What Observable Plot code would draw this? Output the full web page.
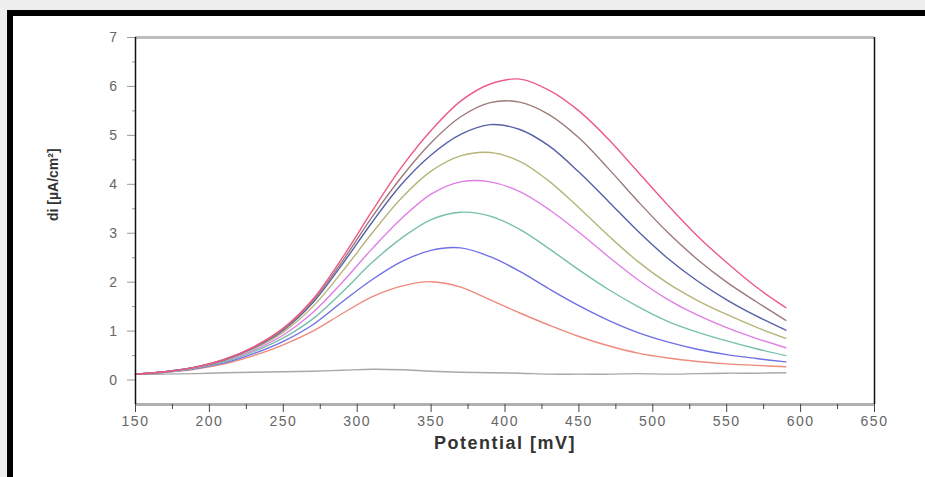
<!DOCTYPE html>
<html>
<head>
<meta charset="utf-8">
<script src="https://cdn.jsdelivr.net/npm/d3@7"></script>
<script src="https://cdn.jsdelivr.net/npm/@observablehq/plot@0.6"></script>
<style>
  html, body { margin: 0; padding: 0; width: 925px; height: 477px; overflow: hidden; background: #eeeeee; font-family: "Liberation Sans", Arial, sans-serif; }
  #frame { position: absolute; left: 7px; top: 10px; width: 940px; height: 490px; border: 6px solid #000; background: #fff; box-sizing: border-box; }
  #chart { position: absolute; left: 0; top: 0; }
  g[aria-label="x-axis tick label"] text, g[aria-label="y-axis tick label"] text { letter-spacing: 1.5px; }
  g.xlab text { letter-spacing: 1.5px; }
</style>
</head>
<body>
<div id="frame"></div>
<div id="chart"></div>
<script>
const potential = [150,170,190,210,230,250,270,290,310,330,350,370,390,410,430,450,470,490,510,530,550,570,590];

const seriesNames = ["c0","c1","c2","c3","c4","c5","c6","c7","c8"];
const c0 = [0.12,0.12,0.13,0.15,0.16,0.17,0.18,0.20,0.22,0.21,0.18,0.16,0.15,0.14,0.12,0.12,0.12,0.13,0.12,0.13,0.14,0.14,0.15];
const c1 = [0.12,0.16,0.22,0.33,0.50,0.72,1.00,1.36,1.70,1.92,2.01,1.90,1.64,1.37,1.12,0.89,0.70,0.55,0.45,0.38,0.33,0.30,0.27];
const c2 = [0.12,0.16,0.23,0.35,0.54,0.79,1.13,1.60,2.05,2.42,2.65,2.70,2.52,2.22,1.86,1.52,1.22,0.97,0.78,0.63,0.52,0.44,0.37];
const c3 = [0.12,0.16,0.24,0.37,0.58,0.86,1.25,1.80,2.40,2.90,3.28,3.43,3.35,3.08,2.68,2.25,1.85,1.50,1.20,0.98,0.80,0.64,0.50];
const c4 = [0.12,0.17,0.25,0.39,0.61,0.92,1.38,2.00,2.68,3.30,3.80,4.05,4.05,3.85,3.48,3.02,2.52,2.05,1.65,1.33,1.07,0.85,0.66];
const c5 = [0.12,0.17,0.25,0.40,0.64,0.98,1.50,2.22,3.00,3.72,4.27,4.58,4.65,4.47,4.06,3.52,2.95,2.42,1.98,1.63,1.34,1.08,0.85];
const c6 = [0.12,0.17,0.26,0.41,0.66,1.02,1.58,2.37,3.22,4.00,4.60,5.02,5.22,5.12,4.78,4.25,3.65,3.04,2.49,2.03,1.64,1.31,1.02];
const c7 = [0.12,0.17,0.26,0.42,0.67,1.04,1.62,2.43,3.33,4.15,4.85,5.38,5.67,5.68,5.42,4.95,4.32,3.65,3.02,2.47,2.00,1.60,1.22];
const c8 = [0.12,0.17,0.26,0.42,0.68,1.06,1.65,2.50,3.45,4.35,5.10,5.70,6.05,6.15,5.92,5.50,4.92,4.25,3.58,2.95,2.40,1.90,1.48];
const seriesColors = ["#a8a8a8","#ef8a7c","#6f6fe6","#78c0a8","#e07ee6","#b5b57a","#5560a8","#9c7b78","#ee5a86"];

const xTicks = [150,200,250,300,350,400,450,500,550,600,650];
const xMinor = [175,225,275,325,375,425,475,525,575,625];
const yTicks = [0,1,2,3,4,5,6,7];
const yMinor = [0.5,1.5,2.5,3.5,4.5,5.5,6.5];

const allSeries = [c0,c1,c2,c3,c4,c5,c6,c7,c8];
const rows = [];
allSeries.forEach((s, k) => s.forEach((v, i) => rows.push({x: potential[i], y: v, s: seriesNames[k]})));

const chart = Plot.plot({
  width: 925,
  height: 477,
  marginLeft: 135,
  marginRight: 51,
  marginTop: 37,
  marginBottom: 73,
  style: {background: "transparent", overflow: "visible", fontFamily: "Liberation Sans, Arial, sans-serif"},
  x: {domain: [150, 650]},
  y: {domain: [-0.5, 7]},
  color: {domain: seriesNames, range: seriesColors},
  marks: [
    Plot.ruleY([7], {stroke: "#bdbdbd", strokeWidth: 3}),
    Plot.ruleY([-0.5], {stroke: "#b0b0b0", strokeWidth: 3}),
    Plot.axisX({ticks: xTicks, tickSize: 8, tickPadding: 4, fontSize: 14, color: "#666", stroke: "#444", label: null}),
    Plot.axisX({ticks: xMinor, tickSize: 5, text: null, stroke: "#444", label: null}),
    Plot.axisY({ticks: yTicks, tickSize: 8, tickPadding: 9, fontSize: 14, color: "#666", stroke: "#999", label: null}),
    Plot.axisY({ticks: yMinor, tickSize: 3, text: null, stroke: "#999", label: null}),
    Plot.lineY(rows, {x: "x", y: "y", stroke: "s", strokeWidth: 1.4, curve: "catmull-rom"}),
    Plot.ruleX([150], {stroke: "#111", strokeWidth: 1.5}),
    Plot.ruleX([650], {stroke: "#111", strokeWidth: 1.5}),
    Plot.text(["Potential [mV]"], {frameAnchor: "bottom", dy: 44, fontSize: 18, fontWeight: "bold", fill: "#333", className: "xlab"}),
    Plot.text(["di [µA/cm²]"], {frameAnchor: "left", dx: -82, rotate: -90, fontSize: 14, fontWeight: "bold", fill: "#333"})
  ]
});
document.getElementById("chart").appendChild(chart);
</script>
</body>
</html>
